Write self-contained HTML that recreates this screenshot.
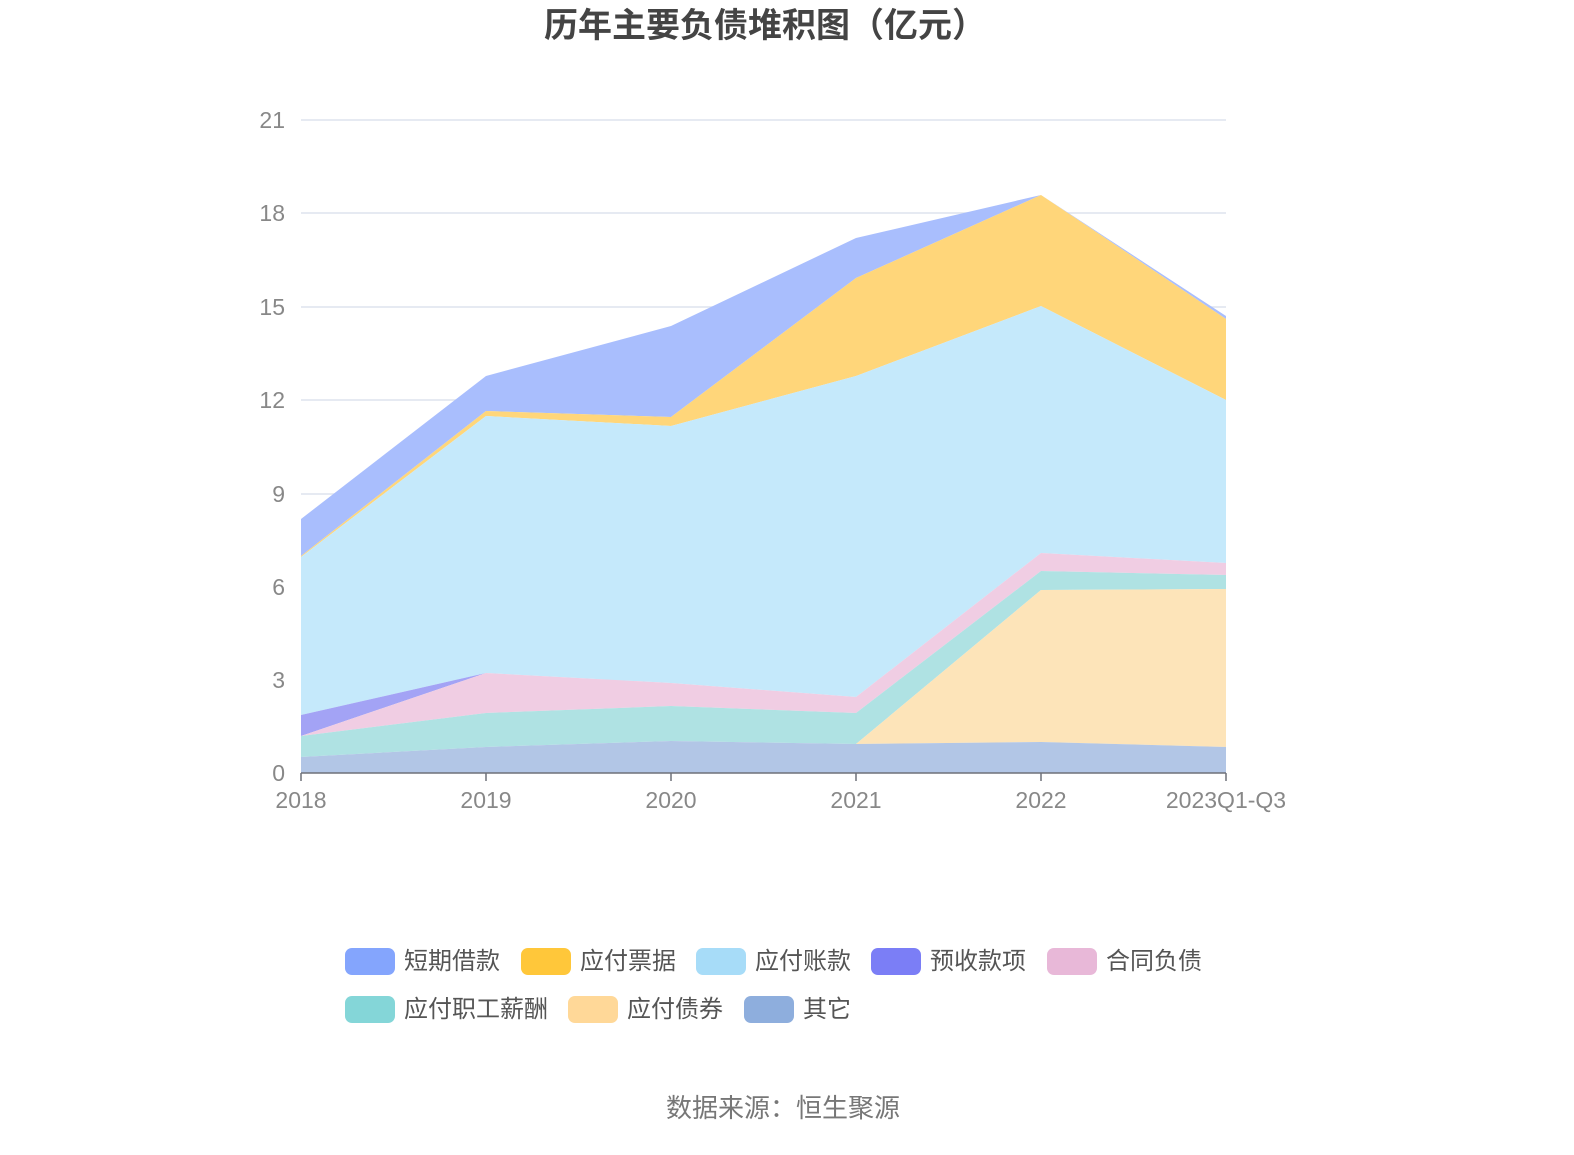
<!DOCTYPE html>
<html><head><meta charset="utf-8"><style>
body{margin:0;background:#fff;}
svg text{font-family:"Liberation Sans","Noto Sans CJK SC",sans-serif;}
</style></head><body>
<svg width="1574" height="1150" viewBox="0 0 1574 1150" xmlns="http://www.w3.org/2000/svg">
<text x="765" y="37" font-size="34" font-weight="bold" fill="#444" text-anchor="middle">历年主要负债堆积图（亿元）</text>
<g stroke="#dde3ee" stroke-width="1.5">
<line x1="301" y1="120" x2="1226" y2="120"/><line x1="301" y1="213" x2="1226" y2="213"/>
<line x1="301" y1="307" x2="1226" y2="307"/><line x1="301" y1="400" x2="1226" y2="400"/>
<line x1="301" y1="494" x2="1226" y2="494"/><line x1="301" y1="587" x2="1226" y2="587"/>
<line x1="301" y1="680" x2="1226" y2="680"/>
</g>
<g font-size="23" fill="#888" text-anchor="end">
<text x="285" y="128">21</text><text x="285" y="221">18</text><text x="285" y="315">15</text>
<text x="285" y="408">12</text><text x="285" y="502">9</text><text x="285" y="595">6</text>
<text x="285" y="688">3</text><text x="285" y="781">0</text>
</g>
<polygon fill="#a9befd" points="301,519 486,376 671,326 856,238 1041,195 1226,316 1226,319 1041,195 856,278 671,417 486,411 301,556"/>
<polygon fill="#ffd67a" points="301,556 486,411 671,417 856,278 1041,195 1226,319 1226,400 1041,306 856,376 671,426 486,416 301,557"/>
<polygon fill="#c5e9fb" points="301,557 486,416 671,426 856,376 1041,306 1226,400 1226,563 1041,553 856,697 671,683 486,673 301,715"/>
<polygon fill="#a3a3f5" points="301,715 486,673 486,673 301,736"/>
<polygon fill="#f0cde3" points="301,736 486,673 671,683 856,697 1041,553 1226,563 1226,575 1041,571 856,713 671,706 486,713 301,736"/>
<polygon fill="#afe2e3" points="301,736 486,713 671,706 856,713 1041,571 1226,575 1226,589 1041,590 856,744 671,741 486,747 301,757"/>
<polygon fill="#fde4b9" points="856,744 1041,590 1226,589 1226,747 1041,742 856,744"/>
<polygon fill="#b2c6e6" points="301,757 486,747 671,741 856,744 1041,742 1226,747 1226,773 301,773"/>
<g stroke="#6e7079" stroke-width="1.5">
<line x1="301" y1="773" x2="1226" y2="773"/>
<line x1="301" y1="773" x2="301" y2="781"/><line x1="486" y1="773" x2="486" y2="781"/>
<line x1="671" y1="773" x2="671" y2="781"/><line x1="856" y1="773" x2="856" y2="781"/>
<line x1="1041" y1="773" x2="1041" y2="781"/><line x1="1226" y1="773" x2="1226" y2="781"/>
</g>
<g font-size="23" fill="#888" text-anchor="middle">
<text x="301" y="808">2018</text><text x="486" y="808">2019</text><text x="671" y="808">2020</text>
<text x="856" y="808">2021</text><text x="1041" y="808">2022</text><text x="1226" y="808">2023Q1-Q3</text>
</g>
<g font-size="24" fill="#555">
<rect x="345" y="948" width="50" height="27" rx="7" fill="#84a5fd"/><text x="404" y="969">短期借款</text>
<rect x="521" y="948" width="50" height="27" rx="7" fill="#ffc73a"/><text x="580" y="969">应付票据</text>
<rect x="696" y="948" width="50" height="27" rx="7" fill="#a7dcf8"/><text x="755" y="969">应付账款</text>
<rect x="871" y="948" width="50" height="27" rx="7" fill="#7b7ef6"/><text x="930" y="969">预收款项</text>
<rect x="1047" y="948" width="50" height="27" rx="7" fill="#e8b8d8"/><text x="1106" y="969">合同负债</text>
<rect x="345" y="996" width="50" height="27" rx="7" fill="#84d6d8"/><text x="404" y="1017">应付职工薪酬</text>
<rect x="568" y="996" width="50" height="27" rx="7" fill="#ffd898"/><text x="627" y="1017">应付债券</text>
<rect x="744" y="996" width="50" height="27" rx="7" fill="#8eaedd"/><text x="803" y="1017">其它</text>
</g>
<text x="783" y="1117" font-size="26" fill="#777" text-anchor="middle">数据来源：恒生聚源</text>
</svg>
</body></html>
